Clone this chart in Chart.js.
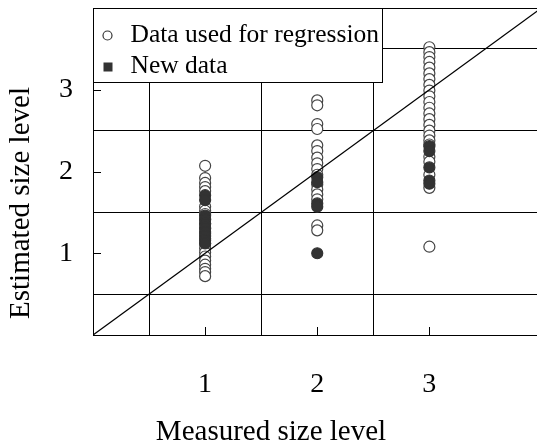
<!DOCTYPE html>
<html>
<head>
<meta charset="utf-8">
<script src="https://cdn.jsdelivr.net/npm/chart.js@4.4.1/dist/chart.umd.min.js"></script>
<style>
  html, body { margin: 0; padding: 0; background: #fff; }
  #wrap { width: 537px; height: 443px; }
</style>
</head>
<body>
<div id="wrap"><canvas id="chart"></canvas></div>
<script>
// Data
const measuredLevels = [1, 2, 3];
const regressionLevel1 = [2.07, 1.92, 1.86, 1.81, 1.76, 1.57, 1.52, 1.48, 1.42, 1.36, 1.30, 1.24, 1.18, 1.12, 1.06, 1.01, 0.96, 0.91, 0.86, 0.81, 0.77, 0.72];
const regressionLevel2 = [2.87, 2.81, 2.58, 2.52, 2.32, 2.25, 2.17, 2.10, 2.03, 1.96, 1.84, 1.78, 1.72, 1.66, 1.34, 1.28];
const regressionLevel3 = [3.52, 3.46, 3.40, 3.34, 3.27, 3.20, 3.13, 3.06, 2.99, 2.92, 2.85, 2.78, 2.71, 2.64, 2.57, 2.50, 2.44, 2.38, 2.33, 2.18, 2.12, 1.96, 1.80, 1.08];
const newLevel1 = [1.71, 1.65, 1.46, 1.41, 1.36, 1.31, 1.26, 1.21, 1.16, 1.12];
const newLevel2 = [1.93, 1.87, 1.61, 1.57, 1.00];
const newLevel3 = [2.31, 2.25, 2.05, 1.89, 1.85];
const tickLabels = ["1", "2", "3"];
const xRange = [0, 3.96]; // right side of the plot is cut by the figure edge
const yRange = [0, 4];
const diagonal = [0, 4];
const legendLabels = ["Data used for regression", "New data"];
const xTitle = "Measured size level";
const yTitle = "Estimated size level";

const FONT = "'Liberation Serif', 'Times New Roman', serif";

// Build point lists
function toPoints(levels, columns) {
  const pts = [];
  levels.forEach(function (lv, i) {
    columns[i].forEach(function (v) { pts.push({ x: lv, y: v }); });
  });
  return pts;
}
const regressionPoints = toPoints(measuredLevels, [regressionLevel1, regressionLevel2, regressionLevel3]);
const newPoints = toPoints(measuredLevels, [newLevel1, newLevel2, newLevel3]);

function gridColor(ctx) {
  const v = ctx.tick ? ctx.tick.value : null;
  if (v === null) return "rgba(0,0,0,0)";
  if (Math.abs(v - Math.round(v)) > 0.25) return "#000"; // half steps
  return "rgba(0,0,0,0)";
}

function tickText(v) {
  const i = measuredLevels.indexOf(v);
  return i >= 0 ? tickLabels[i] : "";
}

// Inward tick marks, box top, legend and axis titles
const decorPlugin = {
  id: "decor",
  afterDraw: function (chart) {
    const c = chart.ctx;
    const a = chart.chartArea;
    const xs = chart.scales.x;
    const ys = chart.scales.y;
    c.save();
    c.strokeStyle = "#000";
    c.lineWidth = 1;
    // top border
    c.beginPath();
    c.moveTo(a.left, Math.round(a.top) + 0.5);
    c.lineTo(a.right, Math.round(a.top) + 0.5);
    c.stroke();
    // inward ticks
    measuredLevels.forEach(function (lv) {
      const px = Math.round(xs.getPixelForValue(lv)) + 0.5;
      c.beginPath();
      c.moveTo(px, a.bottom);
      c.lineTo(px, a.bottom - 8);
      c.stroke();
      const py = Math.round(ys.getPixelForValue(lv)) + 0.5;
      c.beginPath();
      c.moveTo(a.left, py);
      c.lineTo(a.left + 8, py);
      c.stroke();
    });

    // legend box
    const lx = Math.round(a.left) + 0.5, ly = Math.round(a.top) + 0.5, lw = 289, lh = 74;
    c.fillStyle = "#fff";
    c.fillRect(lx, ly, lw, lh);
    c.strokeRect(lx, ly, lw, lh);
    const ds = chart.data.datasets;
    c.font = "25.5px " + FONT;
    c.textBaseline = "middle";
    c.textAlign = "left";
    // open circle
    c.beginPath();
    c.arc(lx + 14, ly + 27, 4.5, 0, Math.PI * 2);
    c.fillStyle = "#fff";
    c.fill();
    c.strokeStyle = "#333";
    c.lineWidth = 1.2;
    c.stroke();
    // filled square
    c.fillStyle = "#333";
    c.fillRect(lx + 10, ly + 54, 9, 9);
    c.fillStyle = "#000";
    c.fillText(ds[1].label, lx + 37, ly + 27);
    c.fillText(ds[2].label, lx + 37, ly + 58);

    // axis titles
    c.font = "29px " + FONT;
    c.textAlign = "center";
    c.textBaseline = "middle";
    c.fillText(xTitle, 271, 432);
    c.translate(21, 203);
    c.rotate(-Math.PI / 2);
    c.fillText(yTitle, 0, 0);
    c.restore();
  }
};

new Chart(document.getElementById("chart"), {
  type: "scatter",
  data: {
    datasets: [
      {
        type: "line",
        label: "y = x",
        data: [{ x: diagonal[0], y: diagonal[0] }, { x: diagonal[1], y: diagonal[1] }],
        borderColor: "#000",
        borderWidth: 1.3,
        pointRadius: 0,
        fill: false,
        order: 0
      },
      {
        label: legendLabels[0],
        data: regressionPoints,
        pointRadius: 5.5,
        pointBackgroundColor: "#fff",
        pointBorderColor: "#444",
        pointBorderWidth: 1.2,
        order: 2
      },
      {
        label: legendLabels[1],
        data: newPoints,
        pointRadius: 5.5,
        pointBackgroundColor: "#333",
        pointBorderColor: "#333",
        pointBorderWidth: 1.2,
        order: 1
      }
    ]
  },
  options: {
    responsive: true,
    maintainAspectRatio: false,
    animation: false,
    devicePixelRatio: 1,
    layout: { autoPadding: false, padding: { top: 8, right: 0, left: 0, bottom: 0 } },
    plugins: { legend: { display: false }, tooltip: { enabled: false } },
    scales: {
      x: {
        type: "linear",
        min: xRange[0],
        max: xRange[1],
        afterFit: function (s) { s.height = 108; s.paddingLeft = 0; s.paddingRight = 0; },
        border: { display: true, color: "#000", width: 1 },
        grid: { color: gridColor, lineWidth: 1, drawTicks: false },
        ticks: {
          stepSize: 0.5,
          padding: 33,
          color: "#000",
          font: { family: FONT, size: 28 },
          maxRotation: 0,
          autoSkip: false,
          callback: tickText
        }
      },
      y: {
        type: "linear",
        min: yRange[0],
        max: yRange[1],
        afterFit: function (s) { s.width = 93; s.paddingTop = 0; s.paddingBottom = 0; },
        border: { display: true, color: "#000", width: 1 },
        grid: { color: gridColor, lineWidth: 1, drawTicks: false },
        ticks: {
          stepSize: 0.5,
          padding: 20,
          color: "#000",
          font: { family: FONT, size: 28 },
          autoSkip: false,
          callback: tickText
        }
      }
    }
  },
  plugins: [decorPlugin]
});
</script>
</body>
</html>
